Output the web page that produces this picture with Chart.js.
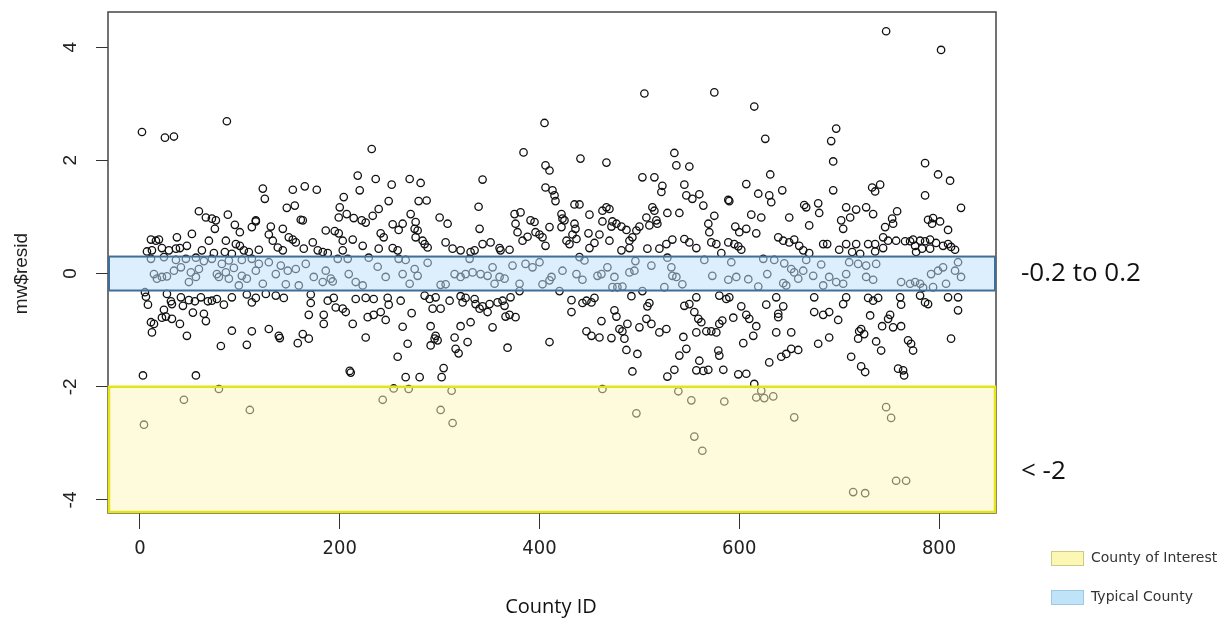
<!DOCTYPE html>
<html>
<head>
<meta charset="utf-8">
<script src="https://cdn.jsdelivr.net/npm/chart.js@4/dist/chart.umd.min.js"></script>
<style>
  html, body { margin: 0; padding: 0; background: #fff; }
  #wrap { width: 1231px; height: 620px; position: relative; }
</style>
</head>
<body>
<div id="wrap"><canvas id="residChart"></canvas></div>
<script>
// residuals per county
const countyId = [
  2,25,34,87,59,66,72,76,75,88,
  95,100,116,112,11,16,19,37,52,69,
  86,96,100,104,7,12,22,29,36,40,
  47,62,74,85,92,109,11,24,36,46,
  56,64,72,82,89,102,112,14,22,34,
  41,51,59,77,86,94,102,116,17,27,
  49,56,79,89,99,107,5,6,8,27,
  31,32,41,49,55,61,68,72,77,84,
  92,107,112,116,24,26,43,53,64,66,
  22,11,14,12,32,40,47,92,112,81,
  107,3,56,79,44,110,4,
  232,218,236,252,220,123,125,153,165,177,
  147,155,161,163,204,200,199,207,214,222,
  226,233,239,249,116,131,143,129,133,149,
  153,156,186,195,199,213,203,241,244,253,
  259,263,119,138,143,164,173,178,183,188,
  203,223,239,253,258,119,129,136,141,148,
  156,166,174,186,191,198,208,216,223,229,
  238,246,259,263,123,146,159,183,193,209,
  126,136,144,171,171,169,184,188,194,196,
  203,206,184,213,216,226,234,228,234,241,
  248,249,261,246,263,129,139,140,158,163,
  169,226,258,210,211,254,243,
  405,384,343,270,281,279,287,406,410,406,
  339,271,276,275,278,300,308,340,276,283,
  285,288,306,313,321,331,335,343,351,360,
  361,370,375,381,376,378,383,388,391,395,
  396,400,403,406,410,266,275,278,288,301,
  306,315,321,326,330,333,341,348,353,355,
  360,365,373,380,386,393,400,403,410,270,
  285,290,296,293,301,310,321,323,326,335,
  336,340,343,348,350,358,363,365,371,366,
  370,376,380,272,268,291,296,295,298,291,
  315,316,319,321,328,331,353,368,410,304,
  302,266,280,269,312,301,313,
  505,441,467,535,537,550,503,515,523,522,
  545,547,553,413,415,416,435,440,450,463,
  467,470,473,422,423,425,422,435,436,433,
  427,430,437,449,460,455,450,463,472,477,
  482,487,490,493,497,500,507,510,513,515,
  517,518,528,540,533,527,520,508,482,490,
  470,545,550,557,412,423,440,445,437,443,
  458,462,468,473,478,483,475,490,495,496,
  512,525,528,532,533,537,543,420,432,432,
  443,447,452,455,462,472,475,477,480,483,
  485,488,492,500,503,507,508,510,512,520,
  527,545,550,555,557,447,452,460,487,498,
  544,547,540,557,493,528,535,557,463,539,
  552,497,555,
  575,615,626,697,692,694,631,607,694,643,
  619,630,632,560,564,589,590,575,569,570,
  596,600,607,612,622,617,650,665,667,679,
  680,670,702,704,572,577,582,589,595,599,
  602,639,644,650,655,660,664,670,684,688,
  700,565,573,592,589,597,609,619,624,628,
  635,645,647,652,655,659,664,667,674,682,
  684,690,697,704,644,580,587,590,602,607,
  610,617,627,637,639,644,639,675,675,684,
  690,699,704,559,562,567,572,577,580,583,
  594,614,604,637,652,690,679,630,642,647,
  652,659,560,564,569,579,580,584,599,607,
  615,622,617,625,634,585,655,563,
  747,802,786,799,811,786,733,741,736,707,
  711,717,727,734,753,758,754,746,744,822,
  789,794,801,809,793,707,717,729,736,749,
  757,766,771,774,781,786,791,797,804,809,
  812,816,776,783,791,777,713,744,736,721,
  710,719,727,737,707,762,771,776,781,784,
  792,794,799,804,807,816,819,822,727,734,
  707,729,734,739,761,762,781,786,789,809,
  819,819,731,743,749,751,754,762,722,720,
  725,719,737,742,769,772,774,812,712,722,
  726,759,764,765,747,752,757,767,714,726
];
const residual = [
  2.50,2.40,2.42,2.69,1.10,0.99,0.97,0.94,0.79,1.04,
  0.86,0.73,0.92,0.82,0.60,0.58,0.60,0.64,0.70,0.58,
  0.58,0.52,0.49,0.41,0.39,0.41,0.45,0.41,0.44,0.45,
  0.49,0.41,0.36,0.38,0.35,0.38,0.26,0.29,0.24,0.26,
  0.28,0.22,0.26,0.17,0.23,0.24,0.26,-0.01,-0.06,0.05,
  0.11,0.02,0.08,-0.01,0.02,0.10,-0.04,0.05,-0.09,-0.05,
  -0.15,-0.06,-0.06,-0.09,-0.21,-0.09,-0.33,-0.41,-0.55,-0.36,
  -0.49,-0.54,-0.42,-0.47,-0.49,-0.42,-0.49,-0.48,-0.45,-0.55,
  -0.42,-0.37,-0.51,-0.43,-0.64,-0.76,-0.57,-0.69,-0.71,-0.84,
  -0.78,-0.86,-0.89,-1.04,-0.80,-0.89,-1.10,-1.01,-1.02,-1.28,
  -1.26,-1.80,-1.80,-2.04,-2.23,-2.41,-2.67,
  2.20,1.73,1.67,1.57,1.47,1.50,1.32,1.48,1.54,1.48,
  1.16,1.20,0.95,0.94,1.35,1.17,0.99,1.05,0.98,0.94,
  0.90,1.02,1.14,1.28,0.94,0.83,0.79,0.69,0.58,0.64,
  0.60,0.55,0.76,0.75,0.71,0.60,0.58,0.71,0.64,0.87,
  0.77,0.88,0.42,0.46,0.41,0.44,0.55,0.41,0.38,0.36,
  0.41,0.49,0.44,0.45,0.41,0.17,0.20,-0.01,0.14,0.05,
  0.08,0.17,-0.06,0.05,-0.09,0.26,0.26,-0.15,-0.21,0.28,
  0.12,-0.06,0.26,-0.01,-0.18,-0.19,-0.21,-0.15,-0.14,-0.01,
  -0.36,-0.39,-0.43,-0.37,-0.52,-0.73,-0.73,-0.48,-0.43,-0.60,
  -0.62,-0.68,-0.89,-0.89,-0.45,-0.43,-0.45,-0.77,-0.73,-0.68,
  -0.43,-0.55,-0.48,-0.82,-0.94,-0.98,-1.10,-1.14,-1.23,-1.07,
  -1.15,-1.13,-1.47,-1.72,-1.75,-2.03,-2.23,
  2.66,2.14,1.66,1.67,1.60,1.28,1.29,1.91,1.82,1.52,
  1.18,1.05,0.91,0.79,0.76,0.99,0.88,0.79,0.64,0.58,
  0.52,0.46,0.55,0.44,0.41,0.38,0.41,0.52,0.55,0.45,
  0.41,0.42,1.05,1.08,0.88,0.73,0.58,0.65,0.94,0.91,
  0.73,0.69,0.64,0.49,0.82,0.24,0.08,-0.04,0.19,-0.20,
  -0.19,-0.01,-0.06,-0.01,0.26,0.02,-0.01,-0.04,0.11,-0.18,
  -0.06,-0.09,0.14,-0.18,0.17,0.11,0.20,-0.19,-0.12,-0.18,
  -0.39,-0.45,-0.42,-0.62,-0.62,-0.48,-0.40,-0.51,-0.43,-0.45,
  -0.54,-0.62,-0.58,-0.68,-0.54,-0.51,-0.48,-0.57,-0.42,-0.76,
  -0.73,-0.77,-0.31,-0.70,-1.24,-0.93,-1.10,-1.15,-1.18,-1.27,
  -1.13,-1.33,-1.41,-0.93,-1.21,-0.86,-0.95,-1.31,-1.21,-1.67,
  -1.83,-1.83,-1.83,-2.04,-2.07,-2.41,-2.64,
  3.18,2.03,1.96,2.13,1.91,1.89,1.70,1.70,1.55,1.44,
  1.57,1.38,1.32,1.47,1.38,1.28,1.22,1.22,1.04,1.11,
  1.17,1.14,0.92,1.05,0.97,0.94,0.82,0.88,0.79,0.69,
  0.58,0.52,0.61,0.71,0.69,0.54,0.45,0.92,0.83,0.88,
  0.83,0.77,0.58,0.64,0.76,0.83,0.99,0.85,1.17,1.11,
  0.94,0.88,1.07,1.07,0.60,0.52,0.44,0.44,0.41,0.45,
  0.58,0.61,0.55,0.45,-0.06,0.05,0.29,0.23,-0.01,-0.11,
  -0.04,-0.01,0.11,-0.24,-0.24,-0.23,-0.06,0.02,0.05,0.22,
  0.14,-0.24,0.28,0.11,-0.04,-0.06,-0.19,-0.31,-0.47,-0.68,
  -0.52,-0.48,-0.51,-0.43,-0.84,-1.14,-0.65,-0.76,-0.98,-1.02,
  -1.15,-0.89,-0.40,-0.95,-0.31,-0.80,-0.58,-0.52,-0.89,-1.04,
  -0.98,-0.57,-0.54,-0.68,-0.42,-1.02,-1.10,-1.13,-1.35,-1.42,
  -1.12,-1.33,-1.45,-1.04,-1.73,-1.82,-1.70,-1.71,-2.04,-2.08,
  -2.24,-2.47,-2.88,
  3.20,2.95,2.38,2.56,2.34,1.98,1.75,1.58,1.47,1.47,
  1.41,1.38,1.26,1.40,1.20,1.30,1.28,1.02,0.88,0.73,
  0.83,0.73,0.79,1.04,0.99,0.71,0.99,1.21,1.17,1.24,
  1.07,0.85,0.94,0.79,0.55,0.52,0.36,0.55,0.52,0.48,
  0.42,0.64,0.58,0.55,0.60,0.49,0.41,0.36,0.52,0.52,
  0.42,0.24,-0.04,0.20,-0.11,-0.06,-0.10,-0.23,0.26,-0.01,
  0.24,0.18,-0.21,0.08,0.02,-0.09,0.05,0.24,-0.04,0.16,
  -0.21,-0.06,-0.15,-0.18,-0.17,-0.39,-0.45,-0.42,-0.58,-0.73,
  -0.80,-0.93,-0.55,-0.42,-0.71,-0.58,-0.77,-0.42,-0.68,-0.73,
  -0.68,-0.82,-0.54,-0.80,-0.86,-1.02,-1.02,-1.04,-0.89,-0.83,
  -0.78,-1.10,-1.23,-1.04,-1.04,-1.13,-1.24,-1.57,-1.47,-1.42,
  -1.33,-1.35,-1.54,-1.72,-1.70,-1.36,-1.45,-1.70,-1.78,-1.77,
  -1.95,-2.07,-2.19,-2.20,-2.17,-2.26,-2.54,-3.13,
  4.28,3.95,1.95,1.75,1.64,1.38,1.52,1.57,1.45,1.17,
  0.99,1.13,1.17,1.05,0.97,1.10,0.88,0.82,0.64,1.16,
  0.95,0.98,0.92,0.77,0.88,0.52,0.52,0.52,0.52,0.58,
  0.58,0.57,0.57,0.60,0.58,0.57,0.60,0.54,0.49,0.52,
  0.47,0.42,0.49,0.44,0.44,0.38,0.38,0.45,0.39,0.35,
  0.20,0.17,0.14,0.17,-0.01,-0.15,-0.18,-0.15,-0.18,-0.25,
  -0.01,-0.24,0.05,0.11,-0.18,0.05,0.20,-0.06,-0.06,-0.11,
  -0.42,-0.43,-0.48,-0.43,-0.42,-0.55,-0.39,-0.51,-0.54,-0.42,
  -0.42,-0.65,-0.74,-0.93,-0.80,-0.73,-0.95,-0.93,-0.98,-1.02,
  -1.07,-1.15,-1.20,-1.36,-1.18,-1.24,-1.36,-1.15,-1.47,-1.64,
  -1.74,-1.68,-1.71,-1.80,-2.36,-2.55,-3.66,-3.66,-3.86,-3.88
];

const xTicks = [0, 200, 400, 600, 800];
const yTicks = [-4, -2, 0, 2, 4];
const typicalBand = [-0.3, 0.3];   // drawn box, labelled "-0.2 to 0.2"
const interestCut = -2;           // everything below is "County of Interest"

if (countyId.length !== residual.length) {
    console.error("length mismatch", countyId.length, residual.length);
}
const points = countyId.map((c, i) => ({ x: c, y: residual[i] }));

// bands, frame and the R style text around the plot
const rDecor = {
    id: "rDecor",
    afterDatasetsDraw(chart) {
        const { ctx, chartArea: a, scales: { y } } = chart;
        ctx.save();
        // plot frame
        ctx.strokeStyle = "#444";
        ctx.lineWidth = 1.5;
        ctx.strokeRect(a.left, a.top, a.right - a.left, a.bottom - a.top);

        // typical county band (drawn over the points, semi transparent)
        const bTop = y.getPixelForValue(typicalBand[1]);
        const bBot = y.getPixelForValue(typicalBand[0]);
        ctx.fillStyle = "rgba(190, 224, 250, 0.52)";
        ctx.fillRect(a.left, bTop, a.right - a.left, bBot - bTop);
        ctx.strokeStyle = "#3f6e97";
        ctx.lineWidth = 2;
        ctx.strokeRect(a.left + 1, bTop, a.right - a.left - 2, bBot - bTop);

        // county of interest band
        const iTop = y.getPixelForValue(interestCut);
        ctx.fillStyle = "rgba(253, 247, 185, 0.5)";
        ctx.fillRect(a.left, iTop, a.right - a.left, a.bottom - iTop);
        ctx.strokeStyle = "#e4e41c";
        ctx.lineWidth = 2.5;
        ctx.strokeRect(a.left + 1, iTop, a.right - a.left - 2, a.bottom - iTop - 1);
        ctx.restore();
    },
    afterDraw(chart) {
        const { ctx, scales: { y } } = chart;
        ctx.save();
        ctx.fillStyle = "#222";

        // y tick labels, rotated like R's las=0
        ctx.font = "19px 'Liberation Sans', Arial, sans-serif";
        ctx.textAlign = "center";
        ctx.textBaseline = "middle";
        yTicks.forEach(v => {
            ctx.save();
            ctx.translate(71, y.getPixelForValue(v));
            ctx.rotate(-Math.PI / 2);
            ctx.fillText(String(v), 0, 0);
            ctx.restore();
        });

        // y axis title
        ctx.save();
        ctx.translate(22, y.getPixelForValue(0));
        ctx.rotate(-Math.PI / 2);
        ctx.fillText("mw$resid", 0, 0);
        ctx.restore();

        // x axis title
        ctx.font = "20px 'Open Sans', sans-serif";
        ctx.fillStyle = "#111";
        ctx.fillText("County ID", 551, 607);

        // band notes on the right
        ctx.textAlign = "left";
        ctx.font = "26px 'Open Sans', sans-serif";
        ctx.fillText("-0.2 to 0.2", 1021, y.getPixelForValue(0));
        ctx.fillText("< -2", 1021, y.getPixelForValue(-3.5));

        // legend
        ctx.lineWidth = 1;
        ctx.fillStyle = "#fdf7b4";
        ctx.strokeStyle = "#cfc98a";
        ctx.fillRect(1051, 551, 32, 14);
        ctx.strokeRect(1051.5, 551.5, 32, 14);
        ctx.fillStyle = "#bfe3f8";
        ctx.strokeStyle = "#9fc8e2";
        ctx.fillRect(1051, 590, 32, 14);
        ctx.strokeRect(1051.5, 590.5, 32, 14);
        ctx.fillStyle = "#333";
        ctx.font = "14px 'DejaVu Sans', sans-serif";
        ctx.fillText("County of Interest", 1091, 558);
        ctx.fillText("Typical County", 1091, 597);
        ctx.restore();
    }
};

new Chart(document.getElementById("residChart"), {
    type: "scatter",
    data: {
        datasets: [{
            label: "mw$resid",
            data: points,
            pointStyle: "circle",
            pointRadius: 3.7,
            pointBorderWidth: 1.3,
            pointBorderColor: "#111",
            pointBackgroundColor: "rgba(0,0,0,0)"
        }]
    },
    options: {
        responsive: true,
        maintainAspectRatio: false,
        animation: false,
        events: [],
        layout: { padding: { left: 0, right: 235, top: 12, bottom: 0 } },
        plugins: {
            legend: { display: false },
            tooltip: { enabled: false }
        },
        scales: {
            x: {
                type: "linear",
                min: -32,
                max: 857,
                afterFit(scale) { scale.height = 107; },
                afterBuildTicks(scale) { scale.ticks = xTicks.map(v => ({ value: v })); },
                border: { display: false },
                grid: { drawOnChartArea: false, drawTicks: true, tickLength: 16, color: "#333", lineWidth: 1 },
                ticks: {
                    autoSkip: false,
                    maxRotation: 0,
                    padding: 8,
                    color: "#222",
                    font: { family: "'DejaVu Sans Condensed', 'Liberation Sans', sans-serif", size: 20 }
                }
            },
            y: {
                min: -4.23,
                max: 4.62,
                afterFit(scale) { scale.width = 108; },
                afterBuildTicks(scale) { scale.ticks = yTicks.map(v => ({ value: v })); },
                border: { display: false },
                grid: { drawOnChartArea: false, drawTicks: true, tickLength: 12, color: "#333", lineWidth: 1 },
                ticks: { display: false }
            }
        }
    },
    plugins: [rDecor]
});
</script>
</body>
</html>
